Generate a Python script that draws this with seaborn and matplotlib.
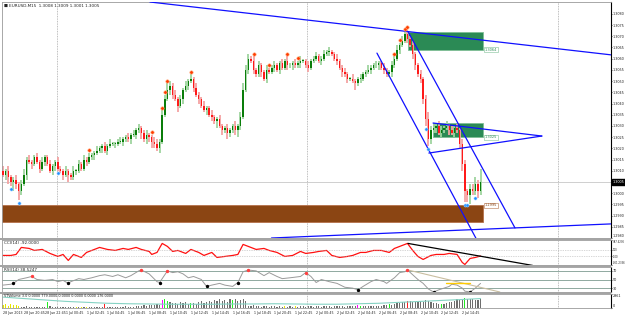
import numpy as np
import pandas as pd
import matplotlib
matplotlib.use("Agg")
import matplotlib.pyplot as plt
import matplotlib.transforms as mtransforms
from matplotlib.patches import Rectangle
import seaborn as sns

# =========================== DATA ===========================
symbol_header = "EURUSD,M15  1.3008 1.3009 1.3001 1.3005"
first_open = 1.3010

close = [
    1.3008, 1.3010, 1.3007, 1.3005, 1.3006, 1.3004, 1.3001, 1.3004, 1.3008, 1.3015,
    1.3014, 1.3013, 1.3016, 1.3014, 1.3011, 1.3014, 1.3016, 1.3013, 1.3010, 1.3012,
    1.3014, 1.3011, 1.3010, 1.3008, 1.3010, 1.3008, 1.3007, 1.3010, 1.3010, 1.3013,
    1.3011, 1.3015, 1.3014, 1.3016, 1.3017, 1.3018, 1.3019, 1.3020, 1.3021, 1.3019,
    1.3021, 1.3022, 1.3022, 1.3022, 1.3023, 1.3023, 1.3024, 1.3025, 1.3024, 1.3026,
    1.3026, 1.3028, 1.3029, 1.3027, 1.3024, 1.3026, 1.3025, 1.3023, 1.3022, 1.3020,
    1.3023, 1.3035, 1.3042, 1.3046, 1.3048, 1.3044, 1.3042, 1.3039, 1.3042, 1.3046,
    1.3048, 1.3050, 1.3051, 1.3047, 1.3044, 1.3042, 1.3039, 1.3037, 1.3038, 1.3035,
    1.3034, 1.3032, 1.3033, 1.3030, 1.3028, 1.3029, 1.3027, 1.3028, 1.3030, 1.3028,
    1.3030, 1.3034, 1.3046, 1.3055, 1.3060, 1.3059, 1.3055, 1.3053, 1.3057, 1.3054,
    1.3051, 1.3055, 1.3054, 1.3056, 1.3057, 1.3055, 1.3058, 1.3056, 1.3059, 1.3057,
    1.3057, 1.3058, 1.3057, 1.3058, 1.3059, 1.3059, 1.3057, 1.3056, 1.3059, 1.3060,
    1.3061, 1.3059, 1.3060, 1.3062, 1.3063, 1.3063, 1.3062, 1.3060, 1.3059, 1.3056,
    1.3054, 1.3053, 1.3051, 1.3051, 1.3050, 1.3049, 1.3051, 1.3051, 1.3053, 1.3054,
    1.3055, 1.3056, 1.3057, 1.3057, 1.3058, 1.3056, 1.3055, 1.3053, 1.3054, 1.3057,
    1.3060, 1.3064, 1.3066, 1.3068, 1.3071, 1.3069, 1.3066, 1.3062, 1.3057, 1.3053,
    1.3051, 1.3042, 1.3033, 1.3024, 1.3028, 1.3029, 1.3030, 1.3027, 1.3028, 1.3029,
    1.3030, 1.3028, 1.3027, 1.3029, 1.3028, 1.3022, 1.3013, 1.3001, 1.2999, 1.3002,
    1.3001, 1.3004, 1.3001, 1.3005,
]

# wick lengths in pips above the body / below the body
up_wick = [
    2, 1, 2, 1, 1, 2, 1, 2, 3, 1, 2, 1, 1, 2, 1, 2, 1, 1, 2, 1,
    1, 2, 1, 1, 2, 1, 1, 2, 1, 2, 1, 2, 1, 2, 1, 1, 2, 1, 1, 2,
    1, 2, 1, 1, 1, 2, 1, 1, 2, 1, 2, 1, 2, 1, 1, 2, 1, 1, 2, 2,
    1, 2, 2, 3, 2, 1, 2, 1, 2, 1, 2, 1, 2, 1, 2, 1, 1, 2, 1, 1,
    2, 1, 1, 2, 1, 1, 2, 1, 1, 2, 1, 2, 3, 2, 2, 1, 2, 1, 2, 1,
    1, 2, 1, 1, 2, 1, 1, 2, 1, 2, 1, 1, 2, 1, 2, 1, 1, 2, 1, 1,
    2, 1, 1, 2, 1, 2, 1, 1, 2, 1, 1, 2, 1, 1, 2, 1, 1, 2, 1, 1,
    2, 1, 1, 2, 1, 1, 2, 1, 1, 2, 1, 2, 1, 2, 1, 2, 1, 2, 1, 1,
    2, 1, 2, 3, 2, 2, 1, 2, 2, 1, 2, 1, 2, 1, 2, 1, 2, 2, 1, 2,
    2, 3, 2, 6,
]
low_wick = [
    1, 2, 3, 2, 4, 2, 4, 2, 1, 2, 1, 2, 1, 1, 2, 1, 2, 1, 1, 2,
    2, 1, 1, 2, 1, 3, 1, 1, 2, 1, 1, 1, 2, 1, 1, 2, 1, 1, 2, 1,
    2, 1, 1, 2, 1, 1, 2, 1, 1, 2, 1, 2, 1, 3, 1, 2, 2, 3, 2, 1,
    2, 1, 1, 1, 2, 2, 1, 3, 1, 2, 1, 2, 1, 2, 1, 2, 1, 1, 2, 1,
    2, 1, 3, 1, 2, 1, 3, 2, 1, 2, 3, 2, 1, 1, 2, 1, 2, 1, 1, 2,
    1, 2, 1, 1, 2, 1, 2, 1, 1, 2, 1, 2, 1, 1, 2, 1, 1, 2, 1, 1,
    1, 1, 2, 1, 1, 2, 1, 1, 2, 1, 2, 1, 2, 1, 1, 3, 1, 2, 1, 1,
    1, 2, 1, 1, 2, 1, 2, 1, 1, 2, 1, 1, 2, 1, 1, 2, 1, 2, 2, 1,
    2, 2, 3, 3, 2, 1, 2, 1, 2, 1, 1, 2, 1, 2, 1, 2, 3, 5, 3, 4,
    2, 2, 3, 2,
]

fractal_up = [33, 57, 61, 62, 63, 72, 96, 102, 109, 113, 150, 152, 154, 155]
fractal_down = [3, 6, 21, 162, 163, 177, 178, 181]

# analyst objects: (bar, price) pairs
top_line = [(53.3, 1.30857), (155.2, 1.30721)]
chan_left = [(143.3, 1.30625), (181.6, 1.29791)]
chan_right = [(155.2, 1.30721), (196.2, 1.29845)]
bottom_line = [(94.6, 1.29796), (233.3, 1.29863)]
tri_top = [(164.8, 1.30313), (206.5, 1.30255)]
tri_bottom = [(163.2, 1.30179), (206.5, 1.30255)]
zones = [  # bar0, bar1, price_low, price_high, face, edge, label, label_price
    (155.2, 183.9, 1.30639, 1.30719, "#2b8a55", "#7fbf95", "1.3064", 1.30639),
    (164.8, 183.9, 1.30250, 1.30313, "#2b8a55", "#7fbf95", "1.3025", 1.30250),
    (-0.4, 183.9, 1.29871, 1.29947, "#8b4513", "#b5714a", "1.2995", 1.29947),
]
separators = [20.5, 116.5, 212.5]

price_ticks = [round(1.2980 + 0.0005 * k, 4) for k in range(21)]

time_labels = ["28 Jun 2013", "28 Jun 20:45", "28 Jun 22:45",
               "1 Jul 00:45", "1 Jul 02:45", "1 Jul 04:45", "1 Jul 06:45",
               "1 Jul 08:45", "1 Jul 10:45", "1 Jul 12:45", "1 Jul 14:45",
               "1 Jul 16:45", "1 Jul 18:45", "1 Jul 20:45", "1 Jul 22:45",
               "2 Jul 00:45", "2 Jul 02:45", "2 Jul 04:45", "2 Jul 06:45",
               "2 Jul 08:45", "2 Jul 10:45", "2 Jul 12:45", "2 Jul 14:45"]

cci_bar = [0, 3, 5, 7, 10, 12, 15, 18, 21, 23, 25, 27, 30, 32, 34, 37, 40, 43, 46, 48,
           51, 53, 56, 57, 59, 61, 63, 65, 67, 70, 72, 75, 77, 80, 82, 85, 88, 90, 92, 95,
           97, 100, 102, 105, 108, 111, 114, 116, 119, 121, 124, 126, 129, 132, 134, 137,
           139, 142, 145, 148, 150, 152, 155, 157, 159, 161, 164, 166, 169, 171, 174, 176,
           177, 179, 181, 183]
cci_val = [-75, -75, -45, 165, 135, 75, 105, -15, -105, -45, -225, -45, -135, 15, 75, 165,
           105, 75, 135, 105, 165, 105, 45, -45, 15, 285, 195, 45, 75, -15, 105, 15, -75,
           15, -135, -105, -75, -45, 255, 165, 105, 135, 75, 15, -105, -75, 45, -15, 15, 45,
           75, -75, -135, -105, -75, 15, 15, 75, 75, 15, 135, 195, 285, 75, -105, -195, -75,
           -45, -45, -15, -45, -285, -345, -165, -135, -92]
cci_trend = [(155.2, 285), (203.0, -375)]
cci_max, cci_min = 387.4236, -361.2336

rsi_bar = [0, 3, 4, 6, 9, 11, 13, 16, 19, 21, 23, 25, 26, 29, 31, 34, 37, 39, 42, 44,
           47, 49, 52, 53, 56, 57, 59, 60, 62, 63, 65, 67, 69, 71, 73, 76, 78, 80, 83, 85,
           88, 90, 92, 94, 97, 100, 102, 105, 107, 110, 114, 116, 118, 120, 122, 125, 128,
           131, 134, 136, 138, 141, 143, 146, 147, 150, 152, 154, 155, 157, 159, 161, 163,
           165, 167, 169, 171, 172, 174, 176, 177, 179, 181, 183]
rsi_val = [37, 39, 41, 50, 54, 57, 50, 48, 50, 45, 48, 41, 45, 52, 50, 54, 59, 61, 57, 61,
           54, 59, 70, 72, 63, 57, 45, 43, 61, 70, 66, 68, 63, 54, 57, 50, 34, 37, 41, 37,
           34, 43, 68, 72, 70, 59, 66, 57, 52, 54, 57, 66, 57, 43, 50, 45, 41, 32, 30, 26,
           34, 45, 50, 45, 41, 54, 66, 68, 72, 61, 50, 41, 28, 21, 26, 30, 34, 39, 37, 30,
           23, 21, 30, 41]
rsi_peaks = [5, 23, 29, 43, 51, 68]
rsi_troughs = [2, 11, 27, 36, 41, 59, 73, 81]
rsi_trend = [(155.2, 72), (190.4, 21)]
rsi_mark = [(169.7, 41), (178.9, 41)]
rsi_levels = [70, 50, 30]

volume = [
    600, 800, 500, 900, 700, 600, 500, 300, 200, 400, 300, 200, 300, 200, 250, 300, 200, 1300, 400, 200,
    150, 250, 300, 200, 150, 300, 250, 200, 150, 250, 200, 300, 200, 150, 250, 300, 200, 250, 300, 900,
    300, 250, 200, 300, 250, 200, 300, 350, 250, 300, 200, 400, 500, 450, 600, 500, 700, 550, 600, 800,
    700, 1600, 1800, 1500, 1200, 1000, 1100, 900, 1300, 1000, 1200, 900, 1100, 1000, 900, 1200, 1400, 1100, 1300, 1500,
    1200, 1600, 1400, 1800, 1500, 1700, 1300, 1900, 1600, 1800, 1500, 1700, 2000, 1400, 500, 400, 600, 500, 400, 300,
    500, 400, 300, 400, 500, 300, 400, 300, 400, 300, 400, 300, 400, 300, 500, 400, 300, 400, 500, 300,
    400, 350, 300, 400, 500, 400, 300, 400, 500, 350, 400, 300, 400, 350, 500, 400, 600, 500, 400, 350,
    450, 400, 500, 400, 450, 500, 600, 700, 800, 700, 900, 1000, 1100, 1200, 1300, 1500, 1400, 1300, 1200, 1500,
    1400, 1300, 1600, 1400, 1200, 1000, 1100, 900, 800, 900, 1100, 1200, 1300, 1500, 1800, 1600, 1700, 2100, 1900, 2000,
    1800, 1600, 1700, 1900,
]
vol_yellow = [0, 1, 2, 3, 4, 5, 6, 28, 30, 32, 108, 112]
vol_green = [17, 62, 63, 72, 88, 137, 148, 168, 177]
vol_red = [39, 155]
vol_magenta = [61, 136]
vol_avg_bar = [0, 8, 16, 24, 32, 40, 48, 56, 64, 72, 80, 88, 96, 104, 112, 120, 128, 136,
               144, 152, 160, 168, 176, 183]
vol_avg = [2300, 2000, 1700, 1400, 1200, 1000, 900, 850, 800, 800, 800, 850, 850, 900, 850,
           800, 800, 900, 1000, 1200, 1400, 1600, 1800, 2000]
vol_max = 2961

# =========================== PREP ===========================
df = pd.DataFrame({"close": close})
df["bar"] = np.arange(len(df))
df["open"] = [first_open] + close[:-1]
df["high"] = df[["open", "close"]].max(axis=1) + np.array(up_wick) * 0.0001
df["low"] = df[["open", "close"]].min(axis=1) - np.array(low_wick) * 0.0001
df["bull"] = df["close"] >= df["open"]

W, H = 625, 315
sns.set_style("white")
plt.rcParams['font.family'] = ['DejaVu Sans']
FS = 2.45     # axis labels
FS_T = 2.3    # time labels
FS_H = 3.0    # panel headers

fig = plt.figure(figsize=(W / 100, H / 100), dpi=100)


def px_box(x0, y0, x1, y1):
    return [x0 / W, 1 - y1 / H, (x1 - x0) / W, (y1 - y0) / H]


ax = fig.add_axes(px_box(2, 2, 611, 238))
cci_ax = fig.add_axes(px_box(2, 240, 611, 265), sharex=ax)
rsi_ax = fig.add_axes(px_box(2, 267, 611, 292), sharex=ax)
vol_ax = fig.add_axes(px_box(2, 294, 611, 308), sharex=ax)
panels = (ax, cci_ax, rsi_ax, vol_ax)

for a in panels:
    a.set_facecolor("white")
    for s in ("left", "top", "bottom"):
        a.spines[s].set_color("#9a9a9a")
        a.spines[s].set_linewidth(0.6)
    a.spines["right"].set_color("black")
    a.spines["right"].set_linewidth(0.8)
    a.yaxis.tick_right()
    a.tick_params(axis="y", labelsize=FS, length=1.0, width=0.5, pad=0.4, colors="#222222")
    a.tick_params(axis="x", labelsize=FS_T, length=1.2, width=0.5, pad=0.8, colors="#222222")
    for s in separators:
        a.axvline(s, color="#a8a8a8", lw=0.6, ls=(0, (1, 1)), zorder=0.5)

ax.set_xlim(-0.4, 233)

# panel separator bands
for y0 in (238, 265, 292):
    fig.add_artist(Rectangle((0, 1 - (y0 + 2) / H), 611 / W, 2 / H,
                             transform=fig.transFigure, color="#a4a4a4", lw=0))

# =========================== MAIN PANEL ===========================
ax.set_ylim(1.2980, 1.30853)
ax.axhline(close[-1], color="#c8c8c8", lw=0.6, zorder=0.6)

for z in zones:
    ax.add_patch(Rectangle((z[0], z[2]), z[1] - z[0], z[3] - z[2],
                           facecolor=z[4], edgecolor=z[5], lw=0.6, zorder=1))
    ax.text(z[1] + 0.8, z[7], z[6], fontsize=2.5, color=z[4], va="center", ha="left",
            bbox=dict(boxstyle="square,pad=0.15", fc="white", ec=z[5], lw=0.4), zorder=6)

wick_col = np.where(df["bull"], "#9fd49f", "#f5a3a3")
body_col = np.where(df["bull"], "#0a7d0a", "#ff1a1a")
ax.vlines(df["bar"], df["low"], df["high"], colors=wick_col, lw=1.3, zorder=2)
body_h = (df["close"] - df["open"]).abs().clip(lower=0.00003)
ax.bar(df["bar"], body_h, bottom=df[["open", "close"]].min(axis=1), width=0.55,
       color=body_col, lw=0, zorder=3)

up = df.loc[fractal_up]
dn = df.loc[fractal_down]
sns.scatterplot(x=up["bar"].values, y=up["high"].values + 0.00012, ax=ax, color="#ff3b00",
                edgecolor="#ffb080", s=6, linewidth=0.4, zorder=5)
sns.scatterplot(x=dn["bar"].values, y=dn["low"].values - 0.00012, ax=ax, color="#1e8fff",
                edgecolor="#9fd0ff", s=5, linewidth=0.4, zorder=5)

ax.axline(top_line[0], top_line[1], color="#1010ff", lw=0.9, zorder=4)
ax.axline(bottom_line[0], bottom_line[1], color="#1010ff", lw=0.9, zorder=4)
for seg in (chan_left, chan_right, tri_top, tri_bottom):
    ax.plot([seg[0][0], seg[1][0]], [seg[0][1], seg[1][1]], color="#1010ff", lw=0.9, zorder=4)

shown = [p for p in price_ticks if abs(p - close[-1]) > 0.0002]
ax.set_yticks(shown)
ax.set_yticklabels([f"{p:.4f}" for p in shown])
ax.get_yticklabels()[0].set_va("bottom")
trans = mtransforms.blended_transform_factory(ax.transAxes, ax.transData)
ax.text(1.002, close[-1], f"{close[-1]:.4f}", transform=trans, fontsize=FS, color="white",
        va="center", ha="left", bbox=dict(boxstyle="square,pad=0.2", fc="black", ec="black"))
ax.text(0.004, 0.993, "\u25a0 " + symbol_header, transform=ax.transAxes, fontsize=FS_H,
        va="top", ha="left", color="#222222")
ax.tick_params(axis="x", labelbottom=False, length=0)

# =========================== CCI ===========================
cci_ax.set_ylim(cci_min, cci_max)
sns.lineplot(x=cci_bar, y=cci_val, ax=cci_ax, color="#ff1010", lw=0.9)
for lv in (100, -100):
    cci_ax.axhline(lv, color="#b0b0b0", lw=0.5, ls=(0, (1, 1.5)))
cci_ax.plot([cci_trend[0][0], cci_trend[1][0]], [cci_trend[0][1], cci_trend[1][1]],
            color="black", lw=0.9)
cci_ax.set_yticks([cci_max, 100, -100, cci_min])
cci_ax.set_yticklabels([f"{cci_max:.4f}", "100", "-100", f"{cci_min:.4f}"])
cci_ax.tick_params(axis="y", labelsize=1.8)
cci_lbl = cci_ax.get_yticklabels()
cci_lbl[0].set_va("top")
cci_lbl[-1].set_va("bottom")
cci_ax.text(0.004, 0.95, f"CCI(14) {cci_val[-1]:.4f}", transform=cci_ax.transAxes,
            fontsize=FS_H, va="top", color="#222222")
cci_ax.tick_params(axis="x", labelbottom=False, length=0)

# =========================== RSI ===========================
rsi_ax.set_ylim(21, 79)
for lv in rsi_levels:
    rsi_ax.axhline(lv, color="#8fa9a0", lw=0.7)
sns.lineplot(x=rsi_bar, y=rsi_val, ax=rsi_ax, color="#9a9a9a", lw=0.7)
rsi_ax.scatter([rsi_bar[i] for i in rsi_peaks], [rsi_val[i] for i in rsi_peaks],
               s=2, color="#ff4040", zorder=4)
rsi_ax.scatter([rsi_bar[i] for i in rsi_troughs], [rsi_val[i] for i in rsi_troughs],
               s=2, color="black", zorder=4)
rsi_ax.plot([rsi_trend[0][0], rsi_trend[1][0]], [rsi_trend[0][1], rsi_trend[1][1]],
            color="#c9bea0", lw=0.8)
rsi_ax.plot([rsi_mark[0][0], rsi_mark[1][0]], [rsi_mark[0][1], rsi_mark[1][1]],
            color="#ffcc00", lw=1.0)
rsi_ax.set_yticks(rsi_levels)
rsi_ax.set_yticklabels([str(v) for v in rsi_levels])
rsi_ax.text(0.004, 0.95, "RSI(14) 38.5247", transform=rsi_ax.transAxes,
            fontsize=FS_H, va="top", color="#222222")
rsi_ax.tick_params(axis="x", labelbottom=False, length=0)

# =========================== VOLUME ===========================
vcol = ["#6e6e6e"] * len(volume)
for lst, c in ((vol_yellow, "#e6e600"), (vol_green, "#22ee22"),
               (vol_red, "#ff2020"), (vol_magenta, "#ff00ff")):
    for i in lst:
        vcol[i] = c
vol_ax.set_ylim(0, vol_max)
vol_ax.bar(np.arange(len(volume)), volume, width=0.45, color=vcol, lw=0)
sns.lineplot(x=vol_avg_bar, y=vol_avg, ax=vol_ax, color="#86d3c4", lw=0.8)
vol_ax.set_yticks([vol_max, 0])
vol_ax.set_yticklabels([str(vol_max), "0"])
vlbl = vol_ax.get_yticklabels()
vlbl[0].set_va("top")
vlbl[1].set_va("bottom")
vol_ax.text(0.004, 0.97, "VTVolume 3.0 0.0000 779.0000 0.0000 0.0000 0.0000 176.0000",
            transform=vol_ax.transAxes, fontsize=2.4, va="top", color="#222222")
vol_ax.set_xticks(np.arange(0, 8 * len(time_labels), 8))
vol_ax.set_xticklabels(time_labels, ha="left")
vol_ax.set_xlim(-0.4, 233)

for a in panels:
    a.set_xlabel("")
    a.set_ylabel("")

fig.savefig("out.png", dpi=100, facecolor="white")
